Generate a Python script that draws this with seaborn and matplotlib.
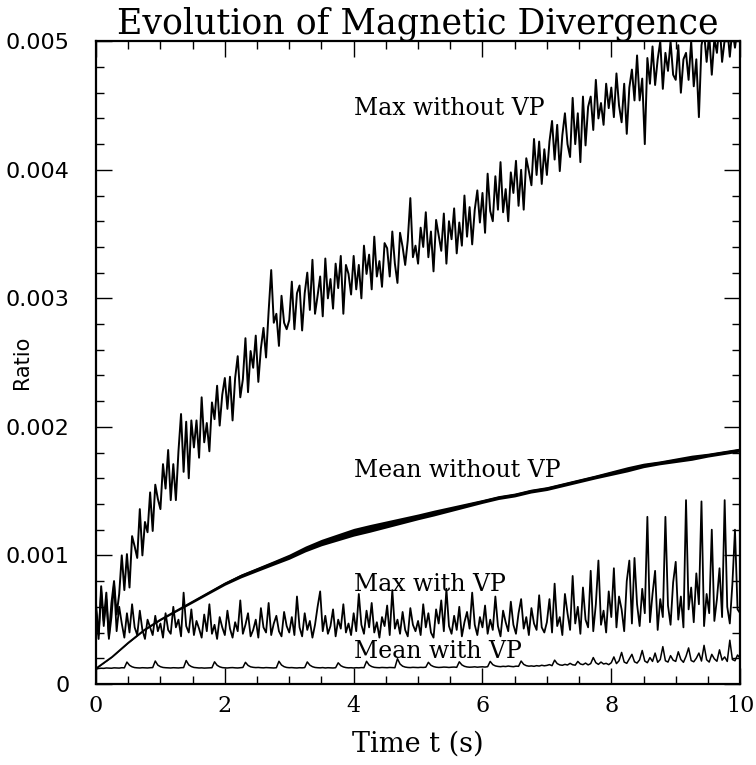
import numpy as np
import pandas as pd
import matplotlib
matplotlib.use("Agg")
import matplotlib.pyplot as plt
import seaborn as sns

# ---------------- data ----------------
title = "Evolution of Magnetic Divergence"
x_label = "Time t (s)"
y_label = "Ratio"
x_ticks = [0, 2, 4, 6, 8, 10]
x_tick_labels = ["0", "2", "4", "6", "8", "10"]
y_ticks = [0, 0.001, 0.002, 0.003, 0.004, 0.005]
y_tick_labels = ["0", "0.001", "0.002", "0.003", "0.004", "0.005"]

# sampled every 0.04 s from t = 0 to t = 10 (251 samples)
max_without_vp = [
    62e-5, 35e-5, 76e-5, 49e-5, 71e-5, 37e-5, 63e-5, 80e-5, 54e-5, 70e-5, 100e-5, 73e-5, 101e-5, 75e-5, 115e-5, 107e-5, 98e-5, 136e-5, 100e-5, 126e-5, 118e-5, 149e-5, 119e-5, 155e-5, 144e-5,
    136e-5, 171e-5, 152e-5, 182e-5, 143e-5, 171e-5, 143e-5, 181e-5, 210e-5, 165e-5, 204e-5, 160e-5, 205e-5, 184e-5, 205e-5, 176e-5, 223e-5, 188e-5, 203e-5, 181e-5, 219e-5, 206e-5, 232e-5, 201e-5, 225e-5,
    238e-5, 214e-5, 239e-5, 205e-5, 238e-5, 255e-5, 223e-5, 237e-5, 269e-5, 227e-5, 259e-5, 246e-5, 271e-5, 235e-5, 261e-5, 277e-5, 254e-5, 290e-5, 322e-5, 281e-5, 288e-5, 263e-5, 302e-5, 281e-5, 276e-5,
    283e-5, 313e-5, 276e-5, 304e-5, 310e-5, 275e-5, 304e-5, 320e-5, 291e-5, 330e-5, 288e-5, 302e-5, 317e-5, 286e-5, 331e-5, 300e-5, 315e-5, 292e-5, 327e-5, 308e-5, 333e-5, 288e-5, 326e-5, 319e-5, 303e-5,
    333e-5, 307e-5, 326e-5, 300e-5, 341e-5, 319e-5, 334e-5, 307e-5, 348e-5, 317e-5, 329e-5, 309e-5, 343e-5, 339e-5, 317e-5, 352e-5, 327e-5, 312e-5, 351e-5, 340e-5, 326e-5, 345e-5, 378e-5, 332e-5, 341e-5,
    327e-5, 355e-5, 340e-5, 367e-5, 332e-5, 352e-5, 321e-5, 361e-5, 349e-5, 337e-5, 366e-5, 327e-5, 360e-5, 346e-5, 370e-5, 335e-5, 359e-5, 341e-5, 380e-5, 348e-5, 371e-5, 342e-5, 369e-5, 384e-5, 359e-5,
    382e-5, 351e-5, 397e-5, 368e-5, 360e-5, 395e-5, 369e-5, 406e-5, 367e-5, 385e-5, 360e-5, 398e-5, 382e-5, 407e-5, 372e-5, 400e-5, 369e-5, 409e-5, 399e-5, 388e-5, 424e-5, 396e-5, 422e-5, 389e-5, 416e-5,
    396e-5, 422e-5, 438e-5, 408e-5, 435e-5, 399e-5, 427e-5, 444e-5, 420e-5, 410e-5, 456e-5, 420e-5, 444e-5, 406e-5, 457e-5, 419e-5, 449e-5, 457e-5, 431e-5, 470e-5, 440e-5, 452e-5, 435e-5, 467e-5, 448e-5,
    464e-5, 441e-5, 475e-5, 450e-5, 437e-5, 467e-5, 428e-5, 464e-5, 478e-5, 454e-5, 489e-5, 454e-5, 471e-5, 420e-5, 487e-5, 467e-5, 496e-5, 466e-5, 486e-5, 500e-5, 463e-5, 491e-5, 477e-5, 500e-5, 474e-5,
    470e-5, 497e-5, 460e-5, 486e-5, 491e-5, 470e-5, 500e-5, 465e-5, 486e-5, 441e-5, 497e-5, 507e-5, 484e-5, 505e-5, 474e-5, 502e-5, 491e-5, 515e-5, 484e-5, 501e-5, 511e-5, 488e-5, 510e-5, 495e-5, 510e-5,
    500e-5,
]

max_with_vp = [
    58e-5, 38e-5, 72e-5, 45e-5, 66e-5, 35e-5, 52e-5, 78e-5, 41e-5, 60e-5, 47e-5, 36e-5, 55e-5, 40e-5, 62e-5, 44e-5, 38e-5, 57e-5, 42e-5, 35e-5, 50e-5, 44e-5, 38e-5, 53e-5, 41e-5,
    47e-5, 36e-5, 55e-5, 42e-5, 39e-5, 60e-5, 44e-5, 50e-5, 37e-5, 71e-5, 45e-5, 40e-5, 58e-5, 38e-5, 49e-5, 43e-5, 36e-5, 54e-5, 41e-5, 62e-5, 39e-5, 46e-5, 35e-5, 52e-5, 44e-5,
    38e-5, 57e-5, 43e-5, 36e-5, 48e-5, 41e-5, 65e-5, 39e-5, 46e-5, 55e-5, 37e-5, 42e-5, 50e-5, 36e-5, 59e-5, 44e-5, 40e-5, 63e-5, 38e-5, 47e-5, 53e-5, 41e-5, 37e-5, 56e-5, 45e-5,
    40e-5, 52e-5, 38e-5, 68e-5, 44e-5, 37e-5, 55e-5, 42e-5, 49e-5, 36e-5, 46e-5, 60e-5, 72e-5, 41e-5, 53e-5, 39e-5, 45e-5, 58e-5, 37e-5, 50e-5, 43e-5, 62e-5, 40e-5, 47e-5, 38e-5,
    55e-5, 41e-5, 70e-5, 46e-5, 39e-5, 57e-5, 44e-5, 63e-5, 40e-5, 48e-5, 36e-5, 52e-5, 45e-5, 61e-5, 38e-5, 73e-5, 43e-5, 50e-5, 39e-5, 56e-5, 42e-5, 37e-5, 59e-5, 46e-5, 41e-5,
    49e-5, 38e-5, 62e-5, 44e-5, 55e-5, 40e-5, 36e-5, 58e-5, 47e-5, 65e-5, 41e-5, 74e-5, 45e-5, 39e-5, 53e-5, 42e-5, 60e-5, 37e-5, 48e-5, 56e-5, 43e-5, 71e-5, 46e-5, 38e-5, 52e-5,
    44e-5, 61e-5, 39e-5, 50e-5, 42e-5, 68e-5, 45e-5, 37e-5, 57e-5, 48e-5, 41e-5, 64e-5, 46e-5, 39e-5, 55e-5, 66e-5, 43e-5, 52e-5, 38e-5, 59e-5, 47e-5, 42e-5, 69e-5, 44e-5, 40e-5,
    48e-5, 66e-5, 40e-5, 78e-5, 45e-5, 52e-5, 38e-5, 70e-5, 55e-5, 42e-5, 84e-5, 47e-5, 60e-5, 39e-5, 75e-5, 50e-5, 44e-5, 88e-5, 41e-5, 62e-5, 96e-5, 46e-5, 57e-5, 40e-5, 72e-5,
    52e-5, 90e-5, 44e-5, 68e-5, 58e-5, 41e-5, 80e-5, 96e-5, 47e-5, 98e-5, 62e-5, 45e-5, 74e-5, 55e-5, 130e-5, 48e-5, 70e-5, 88e-5, 42e-5, 66e-5, 52e-5, 130e-5, 61e-5, 46e-5, 79e-5,
    95e-5, 50e-5, 68e-5, 44e-5, 143e-5, 58e-5, 75e-5, 48e-5, 86e-5, 62e-5, 142e-5, 45e-5, 70e-5, 55e-5, 120e-5, 49e-5, 66e-5, 90e-5, 52e-5, 143e-5, 60e-5, 47e-5, 78e-5, 120e-5, 58e-5,
    55e-5,
]

mean_with_vp = [
    115e-6, 120e-6, 122e-6, 121e-6, 124e-6, 123e-6, 122e-6, 125e-6, 124e-6, 123e-6, 126e-6, 125e-6, 170e-6, 145e-6, 133e-6, 127e-6, 125e-6, 124e-6, 126e-6, 125e-6, 124e-6, 126e-6, 127e-6, 178e-6, 146e-6,
    134e-6, 128e-6, 126e-6, 125e-6, 124e-6, 126e-6, 125e-6, 124e-6, 126e-6, 127e-6, 182e-6, 148e-6, 135e-6, 128e-6, 126e-6, 124e-6, 125e-6, 123e-6, 124e-6, 125e-6, 126e-6, 172e-6, 145e-6, 133e-6, 127e-6,
    125e-6, 124e-6, 126e-6, 127e-6, 125e-6, 124e-6, 126e-6, 128e-6, 168e-6, 144e-6, 133e-6, 129e-6, 127e-6, 128e-6, 126e-6, 125e-6, 127e-6, 126e-6, 125e-6, 124e-6, 126e-6, 176e-6, 147e-6, 134e-6, 128e-6,
    126e-6, 127e-6, 125e-6, 124e-6, 126e-6, 125e-6, 127e-6, 171e-6, 146e-6, 134e-6, 128e-6, 126e-6, 125e-6, 127e-6, 124e-6, 126e-6, 125e-6, 124e-6, 126e-6, 164e-6, 142e-6, 132e-6, 127e-6, 125e-6, 126e-6,
    124e-6, 126e-6, 125e-6, 127e-6, 126e-6, 176e-6, 147e-6, 135e-6, 129e-6, 127e-6, 126e-6, 128e-6, 127e-6, 126e-6, 128e-6, 127e-6, 126e-6, 196e-6, 155e-6, 138e-6, 131e-6, 128e-6, 127e-6, 129e-6, 128e-6,
    127e-6, 129e-6, 128e-6, 130e-6, 168e-6, 145e-6, 135e-6, 130e-6, 128e-6, 129e-6, 131e-6, 130e-6, 128e-6, 130e-6, 131e-6, 129e-6, 172e-6, 148e-6, 137e-6, 132e-6, 130e-6, 131e-6, 133e-6, 130e-6, 132e-6,
    133e-6, 131e-6, 134e-6, 175e-6, 150e-6, 140e-6, 136e-6, 134e-6, 137e-6, 135e-6, 139e-6, 136e-6, 134e-6, 138e-6, 137e-6, 178e-6, 152e-6, 142e-6, 138e-6, 140e-6, 137e-6, 142e-6, 139e-6, 145e-6, 141e-6,
    144e-6, 150e-6, 142e-6, 185e-6, 158e-6, 148e-6, 145e-6, 152e-6, 147e-6, 160e-6, 149e-6, 146e-6, 175e-6, 155e-6, 150e-6, 162e-6, 148e-6, 158e-6, 205e-6, 165e-6, 152e-6, 170e-6, 155e-6, 160e-6, 150e-6,
    165e-6, 210e-6, 158e-6, 180e-6, 245e-6, 170e-6, 160e-6, 195e-6, 230e-6, 172e-6, 162e-6, 188e-6, 260e-6, 178e-6, 165e-6, 205e-6, 175e-6, 240e-6, 168e-6, 190e-6, 290e-6, 180e-6, 170e-6, 220e-6, 185e-6,
    175e-6, 250e-6, 190e-6, 168e-6, 215e-6, 280e-6, 182e-6, 172e-6, 200e-6, 240e-6, 178e-6, 300e-6, 188e-6, 170e-6, 230e-6, 195e-6, 176e-6, 265e-6, 185e-6, 210e-6, 175e-6, 340e-6, 190e-6, 180e-6, 225e-6,
    200e-6,
]

# sampled every 0.25 s from t = 0 to t = 10 (41 samples): centre and band thickness
mean_without_vp = [
    12e-5, 21e-5, 32e-5, 42e-5, 50e-5, 57e-5, 64e-5, 71e-5, 78e-5, 84e-5, 89e-5, 94e-5, 99e-5, 105e-5,
    110e-5, 114e-5, 118e-5, 121e-5, 124e-5, 127e-5, 130e-5, 133e-5, 136e-5, 139e-5, 142e-5, 145e-5,
    147e-5, 150e-5, 152e-5, 155e-5, 158e-5, 161e-5, 164e-5, 167e-5, 170e-5, 172e-5, 174e-5, 176e-5,
    178e-5, 180e-5, 182e-5,
]
mean_without_vp_spread = [
    0.5e-5, 0.5e-5, 0.8e-5, 1.0e-5, 1.2e-5, 1.5e-5, 2.0e-5, 2.2e-5, 2.5e-5, 3.0e-5, 3.2e-5, 3.5e-5, 4.0e-5, 4.5e-5,
    5.0e-5, 5.5e-5, 6.0e-5, 6.0e-5, 5.5e-5, 5.0e-5, 4.5e-5, 4.5e-5, 4.0e-5, 3.5e-5, 3.0e-5, 3.0e-5,
    3.0e-5, 3.0e-5, 3.0e-5, 3.0e-5, 3.0e-5, 3.0e-5, 3.5e-5, 4.0e-5, 3.5e-5, 3.0e-5, 3.5e-5, 4.0e-5,
    3.0e-5, 3.0e-5, 3.0e-5,
]

annotations = ["Max without VP", "Mean without VP", "Max with VP", "Mean with VP"]
annotation_t = [4.0, 4.0, 4.0, 4.0]
annotation_y = [0.00448, 0.00166, 0.00077, 0.00025]

# ---------------- figure ----------------
sns.set_theme(style="ticks")
plt.rcParams["font.family"] = ["DejaVu Sans"]

time_fine = np.linspace(0, 10, len(max_without_vp))
time_coarse = np.linspace(0, 10, len(mean_without_vp))

df_fine = pd.DataFrame({
    "t": time_fine,
    "max_without_vp": max_without_vp,
    "max_with_vp": max_with_vp,
    "mean_with_vp": mean_with_vp,
})
df_coarse = pd.DataFrame({
    "t": time_coarse,
    "mean": mean_without_vp,
    "spread": mean_without_vp_spread,
})

fig, ax = plt.subplots(figsize=(7.56, 7.65), dpi=100)
fig.subplots_adjust(left=0.127, right=0.979, bottom=0.106, top=0.946)

line_widths = {"max_without_vp": 1.4, "max_with_vp": 1.3, "mean_with_vp": 1.1}
for col, lw in line_widths.items():
    sns.lineplot(data=df_fine, x="t", y=col, color="black", linewidth=lw,
                 estimator=None, sort=False, ax=ax)

ax.fill_between(df_coarse["t"], df_coarse["mean"] - df_coarse["spread"] / 2,
                df_coarse["mean"] + df_coarse["spread"] / 2, color="black", linewidth=0)
sns.lineplot(data=df_coarse, x="t", y="mean", color="black", linewidth=1.3,
             estimator=None, sort=False, ax=ax)

for txt, tx, ty in zip(annotations, annotation_t, annotation_y):
    ax.text(tx, ty, txt, fontsize=17, family="DejaVu Serif", va="center", ha="left",
            color="black")

ax.set_xlim(0, 10)
ax.set_ylim(0, 0.005)
ax.set_xticks(x_ticks)
ax.set_xticklabels(x_tick_labels)
ax.set_yticks(y_ticks)
ax.set_yticklabels(y_tick_labels)
ax.xaxis.set_minor_locator(matplotlib.ticker.MultipleLocator(0.5))
ax.yaxis.set_minor_locator(matplotlib.ticker.MultipleLocator(0.0002))
ax.tick_params(which="both", direction="in", top=True, right=True, color="black",
               labelcolor="black")
ax.tick_params(which="major", length=11.5, width=1.0)
ax.tick_params(which="minor", length=5.8, width=1.0)
ax.tick_params(axis="x", which="major", labelsize=16, pad=8)
ax.tick_params(axis="y", which="major", labelsize=16, pad=19)
for lbl in ax.get_xticklabels():
    lbl.set_family("DejaVu Serif")
for sp in ax.spines.values():
    sp.set_linewidth(1.6)
    sp.set_color("black")

ax.set_xlabel(x_label, fontsize=19.5, family="DejaVu Serif", labelpad=10, color="black")
ax.set_ylabel(y_label, fontsize=15, color="black")
ax.yaxis.set_label_coords(-0.10, 0.5)
ax.set_title(title, fontsize=25, family="DejaVu Serif", pad=5, color="black")

fig.savefig("out.png", dpi=100, facecolor="white")
